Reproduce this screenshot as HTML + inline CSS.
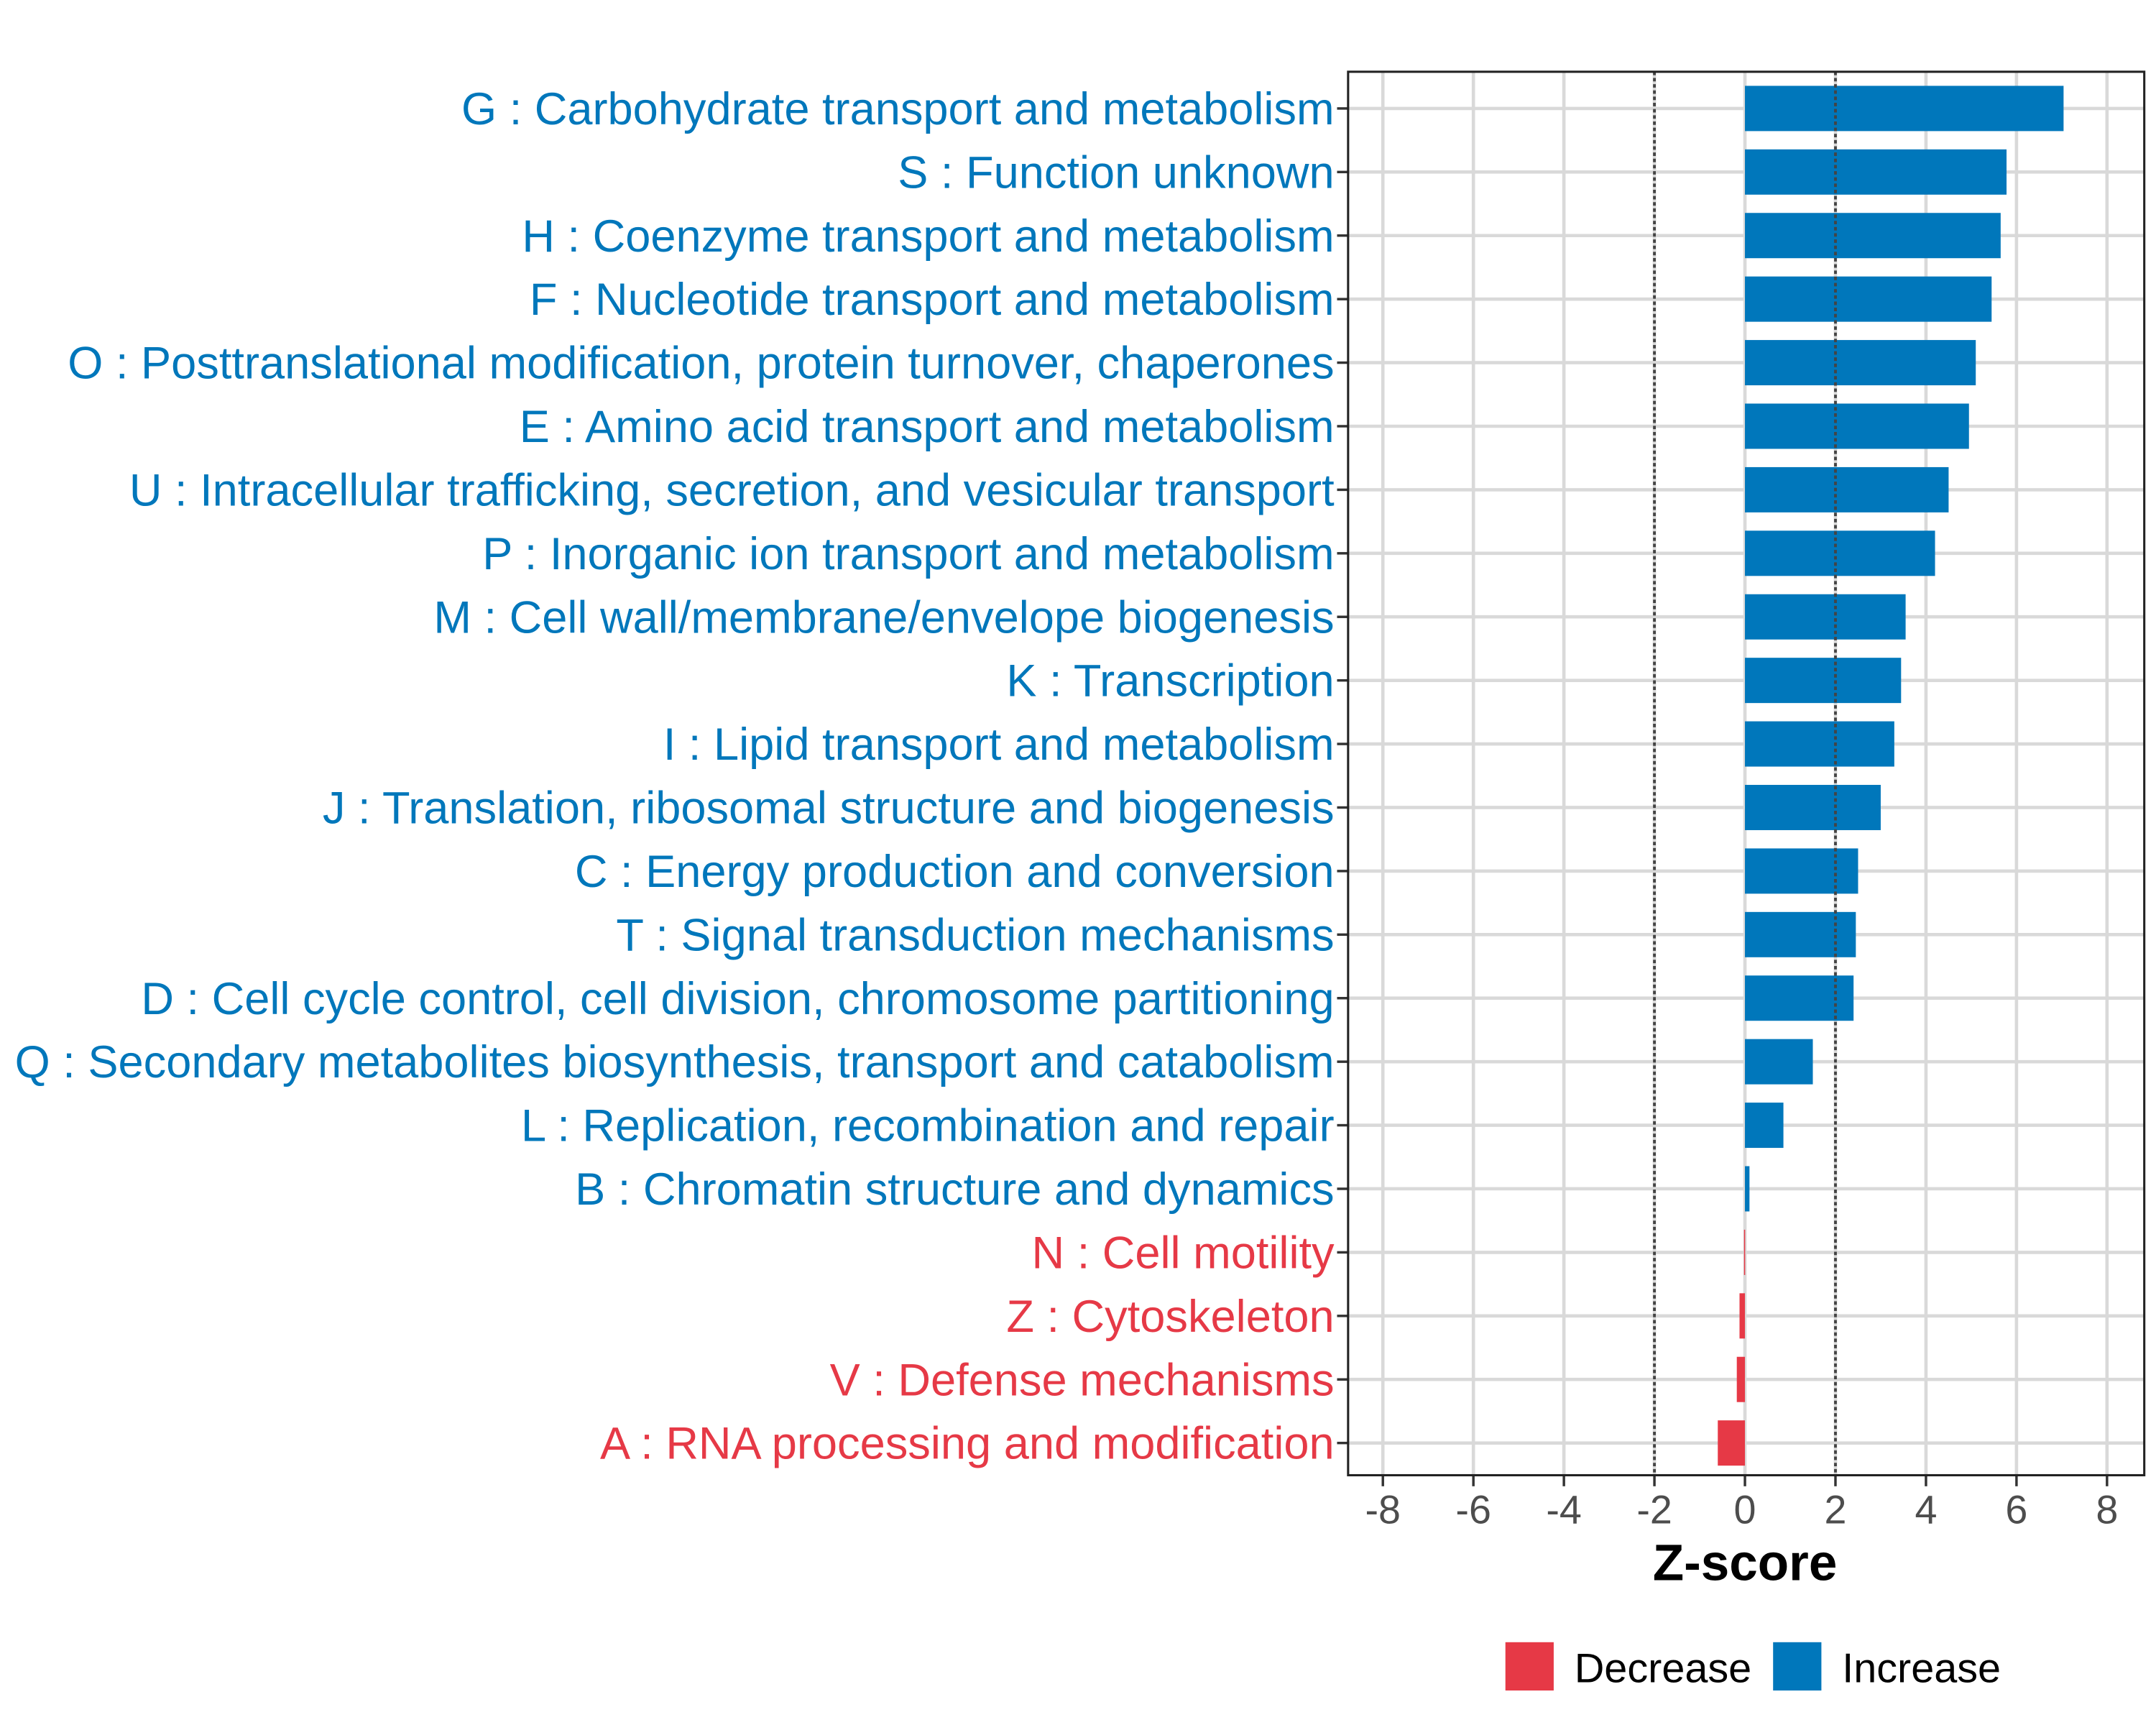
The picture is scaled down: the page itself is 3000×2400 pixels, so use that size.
<!DOCTYPE html>
<html><head><meta charset="utf-8"><style>
html,body{margin:0;padding:0;background:#fff;}
svg{display:block;font-family:"Liberation Sans",Arial,sans-serif;}
</style></head><body>
<svg id="chart" width="3000" height="2400" viewBox="0 0 1562.5 1250" preserveAspectRatio="none" xmlns="http://www.w3.org/2000/svg">
<rect width="1562.5" height="1250" fill="#fff"/>
<g id="grid"></g>
<g id="bars"></g>
<g id="ylabels"></g>
<g id="xticks"></g>
<rect x="977" y="52" width="577" height="1017" fill="none" stroke="#222" stroke-width="1.6"/>
<text x="1264.6" y="1145" font-size="37" font-weight="bold" text-anchor="middle" fill="#000">Z-score</text>
<g>
<rect x="1091" y="1190" width="35" height="35" fill="#E63946"/>
<text x="1141" y="1219" font-size="30" fill="#000">Decrease</text>
<rect x="1285" y="1190" width="35" height="35" fill="#0077BB"/>
<text x="1335" y="1219" font-size="30" fill="#000">Increase</text>
</g>
</svg>
<script>
const categories=["G : Carbohydrate transport and metabolism","S : Function unknown","H : Coenzyme transport and metabolism","F : Nucleotide transport and metabolism","O : Posttranslational modification, protein turnover, chaperones","E : Amino acid transport and metabolism","U : Intracellular trafficking, secretion, and vesicular transport","P : Inorganic ion transport and metabolism","M : Cell wall/membrane/envelope biogenesis","K : Transcription","I : Lipid transport and metabolism","J : Translation, ribosomal structure and biogenesis","C : Energy production and conversion","T : Signal transduction mechanisms","D : Cell cycle control, cell division, chromosome partitioning","Q : Secondary metabolites biosynthesis, transport and catabolism","L : Replication, recombination and repair","B : Chromatin structure and dynamics","N : Cell motility","Z : Cytoskeleton","V : Defense mechanisms","A : RNA processing and modification"];
const zscores=[7.04,5.78,5.65,5.45,5.1,4.95,4.5,4.2,3.55,3.45,3.3,3.0,2.5,2.45,2.4,1.5,0.85,0.1,-0.02,-0.12,-0.18,-0.6];
const xTicks=[-8,-6,-4,-2,0,2,4,6,8];
const thresholds=[-2,2];
const NS="http://www.w3.org/2000/svg";
const x=v=>1264.6+v*32.8;
const y=i=>78.6+i*46.05;
function mk(tag,attrs,parent){const e=document.createElementNS(NS,tag);for(const k in attrs)e.setAttribute(k,attrs[k]);parent.appendChild(e);return e;}
const grid=document.getElementById('grid'),bars=document.getElementById('bars'),yl=document.getElementById('ylabels'),xt=document.getElementById('xticks');
xTicks.forEach(t=>{
 const l=mk('line',{x1:x(t),x2:x(t),y1:52,y2:1069,stroke:'#d9d9d9','stroke-width':2.4},grid);
 
 
 const tk=mk('line',{x1:x(t),x2:x(t),y1:1069,y2:1077,stroke:'#333','stroke-width':1.8},xt);
 
 
 const tx=mk('text',{x:x(t),y:1104,'font-size':29,'text-anchor':'middle',fill:'#4d4d4d'},xt);
 tx.textContent=t;
 
 
});
categories.forEach((c,i)=>{
 const l=mk('line',{x1:977,x2:1554,y1:y(i),y2:y(i),stroke:'#d9d9d9','stroke-width':2.4},grid);
 
 
 const v=zscores[i];const col=v>=0?'#0077BB':'#E63946';
 const r=mk('rect',{x:Math.min(x(0),x(v)),y:y(i)-16.4,width:Math.max(Math.abs(x(v)-x(0)),0.8),height:32.8,fill:col},bars);
 
 
 const tk=mk('line',{x1:969,x2:977,y1:y(i),y2:y(i),stroke:'#333','stroke-width':1.8},yl);
 
 
 const tx=mk('text',{x:967,y:y(i)+11.5,'font-size':32.9,'text-anchor':'end',fill:col},yl);
 tx.textContent=c;
 
 
});
thresholds.forEach(t=>{
 const l=mk('line',{x1:x(t),x2:x(t),y1:52,y2:1069,stroke:'#444','stroke-width':2,'stroke-dasharray':'2.5,2'},bars);
 
 
});
</script>
</body></html>
